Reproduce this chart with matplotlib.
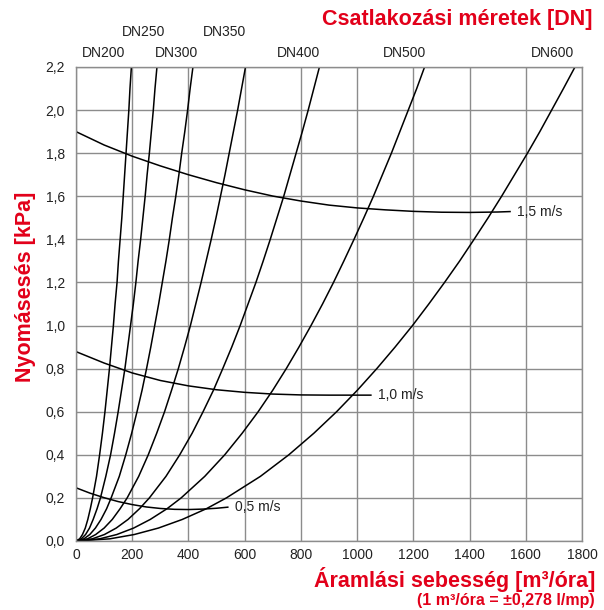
import matplotlib
matplotlib.use("Agg")
import matplotlib.pyplot as plt
from matplotlib.ticker import FuncFormatter

plt.rcParams['font.family'] = ['Liberation Sans', 'DejaVu Sans']

RED = '#e2001a'
GRID = '#8c8c8c'

# pressure drop levels [kPa] at which the DN curves were read
dp_levels = [0, 0.01, 0.03, 0.06, 0.1, 0.15, 0.2, 0.3, 0.4, 0.5, 0.6, 0.7, 0.8, 0.9, 1.0,
             1.1, 1.2, 1.3, 1.4, 1.5, 1.6, 1.7, 1.8, 1.9, 2.0, 2.1, 2.2]

# flow [m3/h] of each connection size at the levels above
dn_names = ['DN200', 'DN250', 'DN300', 'DN350', 'DN400', 'DN500', 'DN600']
dn_flow = [
    [0, 13, 23, 33, 42, 51, 59, 73, 84, 94, 103, 111, 119, 126, 133, 139, 146, 151, 157, 163,
     168, 173, 178, 183, 188, 192, 197],
    [0, 19, 34, 48, 61, 75, 87, 106, 123, 137, 150, 162, 174, 184, 194, 204, 213, 221, 230, 238,
     246, 253, 261, 268, 275, 281, 288],
    [0, 28, 49, 69, 89, 109, 125, 154, 177, 198, 217, 235, 251, 266, 280, 294, 307, 320, 332, 343,
     355, 366, 376, 387, 397, 406, 416],
    [0, 41, 70, 100, 129, 157, 182, 223, 257, 287, 315, 340, 364, 386, 407, 426, 445, 463, 481, 498,
     514, 530, 545, 560, 575, 589, 603],
    [0, 58, 101, 143, 185, 226, 261, 320, 369, 413, 452, 489, 522, 554, 584, 612, 640, 666, 691, 715,
     739, 761, 783, 805, 826, 846, 866],
    [0, 84, 145, 205, 264, 324, 374, 458, 529, 591, 648, 700, 748, 793, 836, 877, 916, 953, 989, 1024,
     1058, 1090, 1122, 1152, 1182, 1212, 1240],
    [0, 120, 207, 293, 378, 464, 535, 656, 757, 846, 927, 1001, 1070, 1135, 1197, 1255, 1311, 1365,
     1416, 1466, 1514, 1560, 1606, 1650, 1692, 1734, 1775],
]

# constant velocity lines
v05_q = [0, 50, 100, 150, 200, 250, 300, 350, 400, 450, 500, 540]
v05_dp = [0.247, 0.222, 0.201, 0.183, 0.169, 0.158, 0.151, 0.147, 0.146, 0.148, 0.152, 0.157]
v10_q = [0, 100, 200, 300, 400, 500, 600, 700, 800, 900, 1000, 1049]
v10_dp = [0.879, 0.826, 0.780, 0.745, 0.720, 0.702, 0.690, 0.682, 0.678, 0.677, 0.677, 0.677]
v15_q = [0, 100, 200, 300, 400, 500, 600, 700, 800, 900, 1000, 1100, 1200, 1300, 1400, 1500, 1544]
v15_dp = [1.900, 1.838, 1.786, 1.741, 1.700, 1.663, 1.630, 1.601, 1.578, 1.559, 1.546, 1.537,
          1.530, 1.526, 1.525, 1.527, 1.529]
v_labels = ['0,5 m/s', '1,0 m/s', '1,5 m/s']

fig = plt.figure(figsize=(6.04, 6.10), dpi=100)
ax = fig.add_axes([76 / 604, 69 / 610, 506 / 604, 474 / 610])

for q in dn_flow:
    ax.plot(q, dp_levels, color='black', lw=1.1)

v_lines = [(v05_q, v05_dp), (v10_q, v10_dp), (v15_q, v15_dp)]
for (q, dp), lab in zip(v_lines, v_labels):
    ax.plot(q, dp, color='black', lw=1.1)
    ax.text(q[-1] + 25, dp[-1], lab, fontsize=10, va='center', ha='left', color='#222222')

ax.set_xlim(0, 1800)
ax.set_ylim(0, 2.2)
ax.set_xticks(range(0, 1801, 200))
ax.set_yticks([i * 0.2 for i in range(12)])
ax.yaxis.set_major_formatter(FuncFormatter(lambda v, p: f"{v:.1f}".replace('.', ',')))
ax.grid(True, color=GRID, lw=1)
ax.set_axisbelow(True)
for s in ax.spines.values():
    s.set_color(GRID)
    s.set_linewidth(1)
ax.tick_params(length=0, labelsize=10, colors='#222222')
ax.tick_params(axis='y', pad=8)
ax.tick_params(axis='x', pad=5)

# DN labels above the plot
dn_pos = [(104, 53), (144, 32), (176, 53), (224, 32), (298, 53), (405, 53), (552, 53)]
for name, (px, py) in zip(dn_names, dn_pos):
    fig.text(px / 604, 1 - py / 610, name, fontsize=10, ha='center', va='center', color='#222222')

fig.text(593 / 604, 1 - 20 / 610, 'Csatlakozási méretek [DN]', fontsize=15.5,
         fontweight='bold', color=RED, ha='right', va='center')
fig.text(25 / 604, 1 - 287 / 610, 'Nyomásesés [kPa]', fontsize=15.5, fontweight='bold',
         color=RED, rotation=90, ha='center', va='center')
fig.text(595 / 604, 1 - 580 / 610, 'Áramlási sebesség [m³/óra]', fontsize=15.5,
         fontweight='bold', color=RED, ha='right', va='center')
fig.text(595 / 604, 1 - 601 / 610, '(1 m³/óra = ±0,278 l/mp)', fontsize=11.5,
         fontweight='bold', color=RED, ha='right', va='center')

fig.savefig('out.png', dpi=100)
